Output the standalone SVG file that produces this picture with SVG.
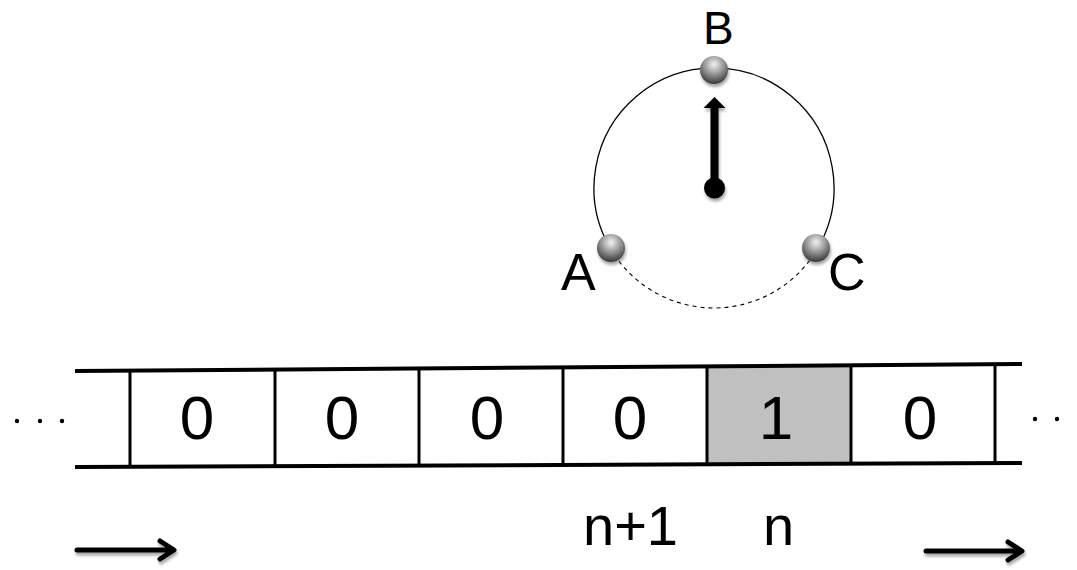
<svg xmlns="http://www.w3.org/2000/svg" width="1077" height="570" viewBox="0 0 1077 570">
  <style>
    .lbl { font-family: "Liberation Sans", Arial, sans-serif; fill: #000; }
    .big { font-size: 62px; text-anchor: middle; }
    .pt { font-size: 52px; }
    .idx { font-size: 56px; }
    .tape { stroke: #000; stroke-width: 4; fill: none; }
    .cell { stroke: #000; stroke-width: 3; }
    .mv { stroke: #000; stroke-width: 5; fill: none; stroke-linecap: round; stroke-linejoin: round; }
  </style>
  <defs>
    <radialGradient id="ball" cx="50%" cy="30%" r="70%">
      <stop offset="0" stop-color="#f2f2f2"/>
      <stop offset="0.45" stop-color="#a0a0a0"/>
      <stop offset="1" stop-color="#383838"/>
    </radialGradient>
    <filter id="shadow" x="-30%" y="-30%" width="160%" height="180%">
      <feGaussianBlur in="SourceAlpha" stdDeviation="1.5"/>
      <feOffset dx="1" dy="3" result="b"/>
      <feComponentTransfer><feFuncA type="linear" slope="0.35"/></feComponentTransfer>
      <feMerge><feMergeNode/><feMergeNode in="SourceGraphic"/></feMerge>
    </filter>
  </defs>

  <!-- state circle with pointer -->
  <g id="dial">
    <path d="M610.1,248 A120,120 0 1 1 817.9,248" fill="none" stroke="#000" stroke-width="1.3"/>
    <path d="M610.1,248 A120,120 0 0 0 817.9,248" fill="none" stroke="#000" stroke-width="1.1" stroke-dasharray="4 4"/>
    <g filter="url(#shadow)">
      <line x1="714.5" y1="188" x2="714.5" y2="106" stroke="#000" stroke-width="8"/>
      <polygon points="703.5,108 714.5,97 725.5,108" fill="#000"/>
      <circle cx="714.5" cy="188" r="10.5" fill="#000"/>
    </g>
  </g>

  <g id="stateA" filter="url(#shadow)">
    <circle cx="611" cy="248" r="14" fill="url(#ball)"/>
  </g>
  <g id="stateB" filter="url(#shadow)">
    <circle cx="714" cy="70" r="14" fill="url(#ball)"/>
  </g>
  <g id="stateC" filter="url(#shadow)">
    <circle cx="816" cy="248" r="14" fill="url(#ball)"/>
  </g>

  <text class="lbl" x="703" y="44" font-size="46">B</text>
  <text class="lbl pt" x="561" y="290">A</text>
  <text class="lbl pt" x="828" y="290">C</text>

  <!-- tape -->
  <g id="tape">
    <polygon points="707,366.3 851,365.3 851,463.7 707,464.3" fill="#c0c0c0"/>
    <line class="tape" x1="75" y1="371" x2="1022" y2="364"/>
    <line class="tape" x1="75" y1="467" x2="1022" y2="463"/>
    <line class="cell" x1="130" y1="370.6" x2="130" y2="466.8"/>
    <line class="cell" x1="275" y1="369.5" x2="275" y2="466.2"/>
    <line class="cell" x1="419" y1="368.5" x2="419" y2="465.5"/>
    <line class="cell" x1="563" y1="367.4" x2="563" y2="464.9"/>
    <line class="cell" x1="707" y1="366.3" x2="707" y2="464.3"/>
    <line class="cell" x1="851" y1="365.3" x2="851" y2="463.7"/>
    <line class="cell" x1="995" y1="364.2" x2="995" y2="463.1"/>
  </g>

  <g id="cells">
    <text class="lbl big" x="197" y="439">0</text>
    <text class="lbl big" x="342" y="439">0</text>
    <text class="lbl big" x="487" y="439">0</text>
    <text class="lbl big" x="630" y="439">0</text>
    <text class="lbl big" x="776" y="439">1</text>
    <text class="lbl big" x="920" y="439">0</text>
  </g>

  <g id="ellipsis" fill="#000">
    <circle cx="17" cy="421" r="2.2"/>
    <circle cx="40" cy="421" r="2.2"/>
    <circle cx="62" cy="421" r="2.2"/>
    <circle cx="1035" cy="419" r="2.2"/>
    <circle cx="1057" cy="419" r="2.2"/>
  </g>

  <text class="lbl idx" x="583" y="545">n+1</text>
  <text class="lbl idx" x="763" y="545">n</text>

  <!-- motion arrows -->
  <g id="connectors" filter="url(#shadow)">
    <path class="mv" d="M77,550 H173 M160,541 L174,550 L160,559"/>
    <path class="mv" d="M926,551 H1021 M1008,542 L1022,551 L1008,560"/>
  </g>
</svg>
